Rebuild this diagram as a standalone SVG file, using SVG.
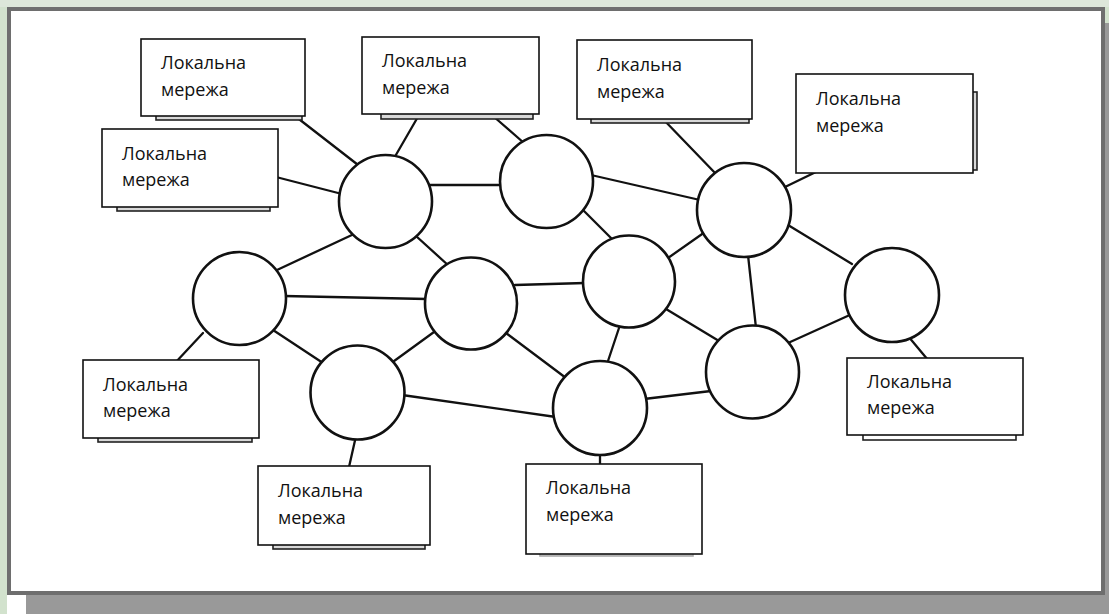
<svg xmlns="http://www.w3.org/2000/svg" width="1109" height="614" viewBox="0 0 1109 614">
  <style>
    .lan rect.box { fill: #ffffff; stroke: #111111; stroke-width: 1.6; }
    .lan rect.under { fill: #d8d8d8; stroke: #222222; stroke-width: 1.6; }
    .lan text { font-family: "Open Sans", "Liberation Sans", sans-serif; font-size: 18px; fill: #111111; }
    .node circle { fill: #ffffff; stroke: #111111; stroke-width: 2.6; }
    #links line { stroke: #111111; stroke-width: 2.3; stroke-linecap: round; }
  </style>

  <!-- page background and framed sheet with drop shadow -->
  <rect x="0" y="0" width="1109" height="614" fill="#d2e2cd"/>
  <rect x="0" y="0" width="1109" height="7" fill="#dde7da"/>
  <rect x="7" y="590" width="25" height="24" fill="#ffffff"/>
  <rect x="26" y="23" width="1083" height="591" fill="#999999"/>
  <rect x="9" y="9" width="1094" height="584" fill="#ffffff" stroke="#6e6e6e" stroke-width="4"/>

  <!-- connections between routers and local networks -->
  <g id="links">
    <line x1="295" y1="116" x2="362" y2="168"/>
    <line x1="419" y1="115" x2="393" y2="160"/>
    <line x1="493" y1="116" x2="524" y2="143"/>
    <line x1="276" y1="177" x2="342" y2="194"/>
    <line x1="430" y1="185" x2="502" y2="185"/>
    <line x1="354" y1="234" x2="277" y2="270"/>
    <line x1="416" y1="236" x2="449" y2="266"/>
    <line x1="284" y1="296" x2="427" y2="299"/>
    <line x1="273" y1="330" x2="326" y2="365"/>
    <line x1="434" y1="332" x2="390" y2="364"/>
    <line x1="506" y1="333" x2="566" y2="378"/>
    <line x1="591" y1="175" x2="700" y2="200"/>
    <line x1="581" y1="208" x2="613" y2="240"/>
    <line x1="515" y1="285" x2="585" y2="283"/>
    <line x1="668" y1="258" x2="705" y2="232"/>
    <line x1="666" y1="309" x2="719" y2="341"/>
    <line x1="620" y1="325" x2="607" y2="364"/>
    <line x1="748" y1="255" x2="756" y2="328"/>
    <line x1="788" y1="225" x2="852" y2="264"/>
    <line x1="788" y1="343" x2="852" y2="314"/>
    <line x1="402" y1="395" x2="556" y2="417"/>
    <line x1="644" y1="399" x2="711" y2="391"/>
    <line x1="662" y1="118" x2="717" y2="175"/>
    <line x1="785" y1="187" x2="820" y2="170"/>
    <line x1="908" y1="336" x2="928" y2="360"/>
    <line x1="203" y1="333" x2="175" y2="363"/>
    <line x1="356" y1="436" x2="349" y2="467"/>
    <line x1="600" y1="452" x2="600" y2="466"/>
  </g>

  <!-- routers -->
  <g id="router-a" class="node"><circle cx="385.5" cy="201.5" r="46.5"/></g>
  <g id="router-b" class="node"><circle cx="239.5" cy="298.5" r="46.5"/></g>
  <g id="router-c" class="node"><circle cx="471" cy="303.5" r="46"/></g>
  <g id="router-d" class="node"><circle cx="546.5" cy="181.5" r="46.5"/></g>
  <g id="router-e" class="node"><circle cx="629" cy="281.5" r="46"/></g>
  <g id="router-f" class="node"><circle cx="744" cy="210" r="47"/></g>
  <g id="router-g" class="node"><circle cx="752.5" cy="372" r="46.5"/></g>
  <g id="router-h" class="node"><circle cx="600" cy="408" r="47"/></g>
  <g id="router-i" class="node"><circle cx="357.5" cy="392.5" r="47"/></g>
  <g id="router-j" class="node"><circle cx="892" cy="295" r="47"/></g>

  <!-- local networks -->
  <g id="lan-1" class="lan">
    <rect class="under" x="156" y="110" width="146" height="10"/>
    <rect class="box" x="141" y="39" width="164" height="77"/>
    <text x="161" y="69">Локальна</text>
    <text x="161" y="96">мережа</text>
  </g>
  <g id="lan-2" class="lan">
    <rect class="under" x="381" y="108" width="152" height="11"/>
    <rect class="box" x="362" y="37" width="177" height="77"/>
    <text x="382" y="67">Локальна</text>
    <text x="382" y="94">мережа</text>
  </g>
  <g id="lan-3" class="lan">
    <rect class="under" x="591" y="114" width="158" height="9"/>
    <rect class="box" x="577" y="40" width="175" height="79"/>
    <text x="597" y="71">Локальна</text>
    <text x="597" y="98">мережа</text>
  </g>
  <g id="lan-4" class="lan">
    <rect class="under" x="960" y="92" width="17" height="78"/>
    <rect class="box" x="796" y="74" width="177" height="99"/>
    <text x="816" y="105">Локальна</text>
    <text x="816" y="132">мережа</text>
  </g>
  <g id="lan-5" class="lan">
    <rect class="under" x="117" y="201" width="153" height="10"/>
    <rect class="box" x="102" y="129" width="176" height="78"/>
    <text x="122" y="160">Локальна</text>
    <text x="122" y="186">мережа</text>
  </g>
  <g id="lan-6" class="lan">
    <rect class="under" x="98" y="432" width="154" height="10"/>
    <rect class="box" x="83" y="360" width="176" height="78"/>
    <text x="103" y="391">Локальна</text>
    <text x="103" y="417">мережа</text>
  </g>
  <g id="lan-7" class="lan">
    <rect class="under" x="273" y="539" width="152" height="10"/>
    <rect class="box" x="258" y="466" width="172" height="79"/>
    <text x="278" y="497">Локальна</text>
    <text x="278" y="524">мережа</text>
  </g>
  <g id="lan-8" class="lan">
    <rect class="under" x="540" y="548" width="153" height="8" style="stroke:#aaaaaa"/>
    <rect class="box" x="526" y="464" width="176" height="90"/>
    <text x="546" y="494">Локальна</text>
    <text x="546" y="521">мережа</text>
  </g>
  <g id="lan-9" class="lan">
    <rect class="under" x="863" y="429" width="153" height="11" style="fill:#ffffff"/>
    <rect class="box" x="847" y="358" width="176" height="77"/>
    <text x="867" y="388">Локальна</text>
    <text x="867" y="414">мережа</text>
  </g>
</svg>
